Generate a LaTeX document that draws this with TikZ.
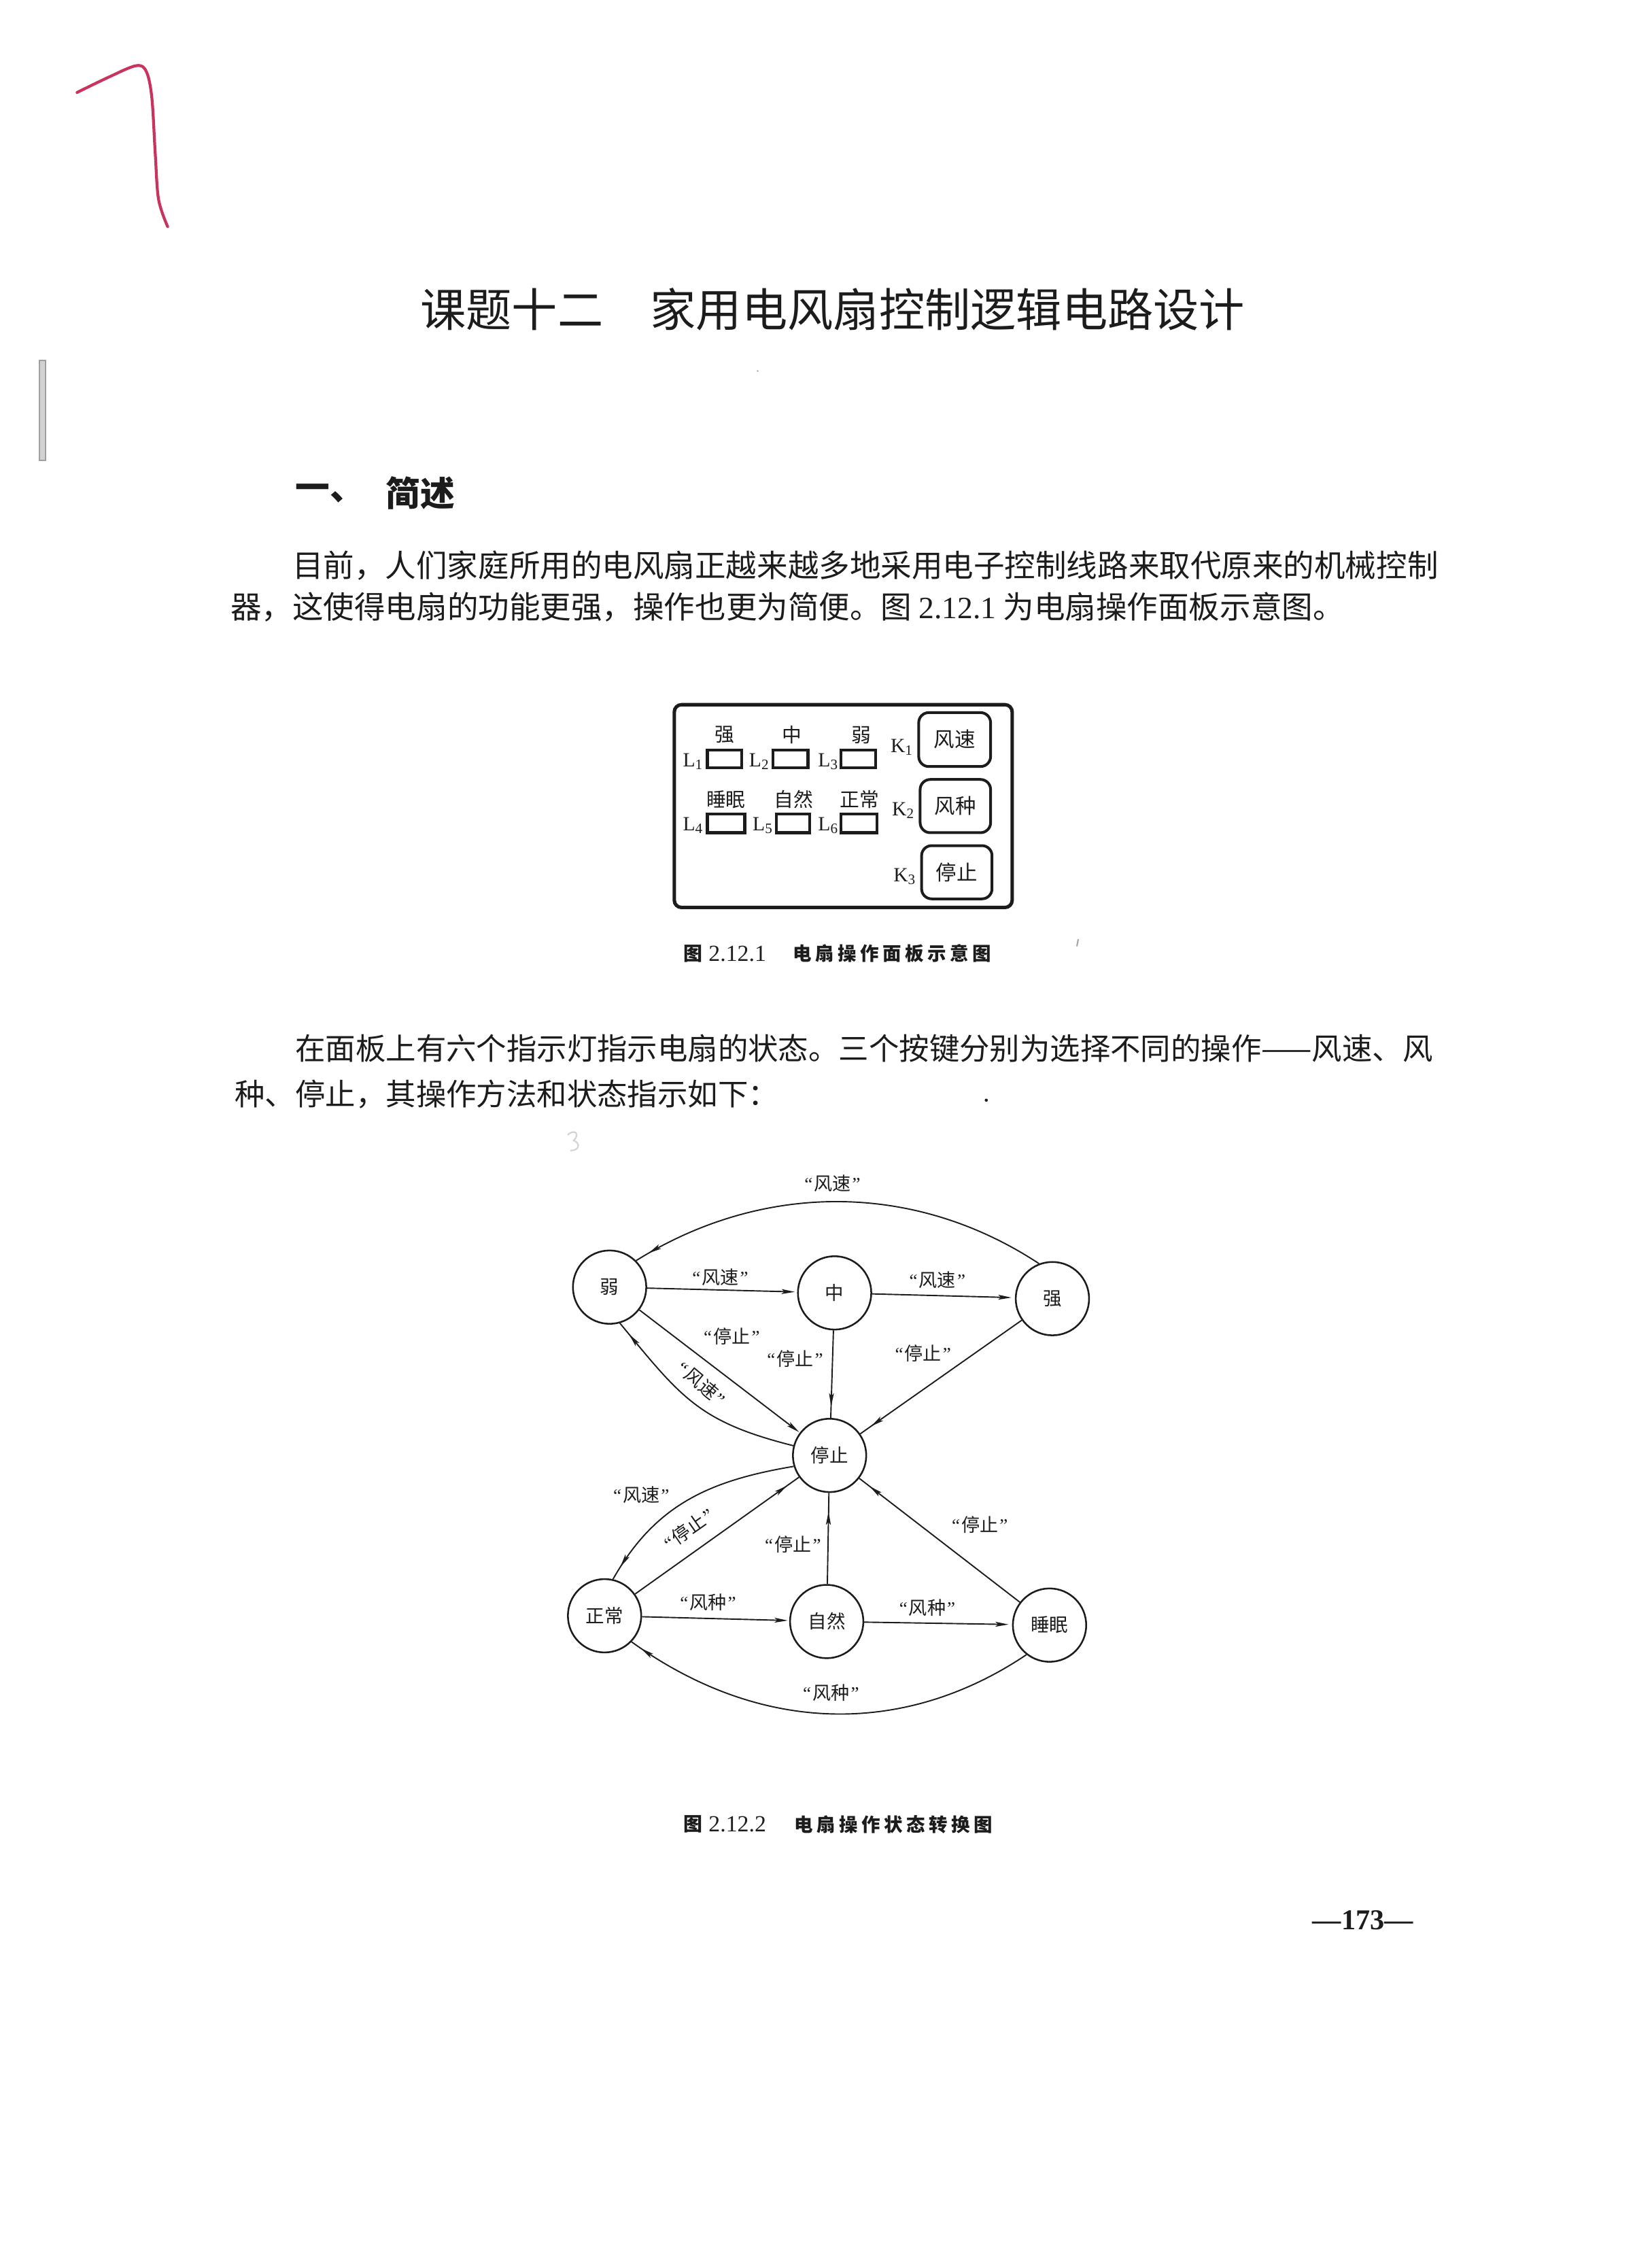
\documentclass[tikz,border=0pt]{standalone}
\usepackage{fontspec}
\setmainfont{Liberation Serif}
\newfontfamily\cjk{Noto Sans CJK SC}
\newfontfamily\lat{Liberation Serif}
\usetikzlibrary{arrows.meta,decorations.markings}

\newcommand\setfs[1]{\fontsize{#1pt}{#1pt}\selectfont}
\newcommand\qt[1]{{\lat “}\hspace{0.5pt}#1\hspace{0.5pt}{\lat ”}}

\definecolor{ink}{HTML}{1C1C1C}
\definecolor{penred}{HTML}{C8345E}

\tikzset{
  ar/.tip={Stealth[length=4.6pt,width=1.7pt,inset=1pt]},
  statenode/.style={circle, draw=ink, line width=0.6pt, minimum size=25.5pt,
    inner sep=0pt, font=\cjk\setfs{6.5}, text=ink},
  lbl/.style={inner sep=0pt, font=\cjk\setfs{6.4}, text=ink},
  conn/.style={draw=ink, line width=0.45pt},
  endtip/.style={postaction={decorate},
    decoration={markings, mark=at position #1 with {\arrow{ar}}}},
  body/.style={anchor=west, inner sep=0pt, text=ink, font=\cjk\setfs{#1}},
  panelbox/.style={draw=ink, line width=1.2pt, rounded corners=2.5pt},
  lamp/.style={draw=ink, line width=1pt},
  keybtn/.style={draw=ink, line width=0.95pt, rounded corners=3.5pt},
  plbl/.style={inner sep=0pt, text=ink, font=\cjk\setfs{6.8}},
  klbl/.style={inner sep=0pt, text=ink, anchor=base east, font=\lat\setfs{7}},
  captxt/.style={anchor=west, inner sep=0pt, text=ink},
}

\begin{document}
\begin{tikzpicture}[x=0.5pt,y=0.5pt]
\useasboundingbox (0,0) rectangle (1149,-1568);
\fill[white] (0,0) rectangle (1149,-1568);

% pen mark in the upper left corner
\draw[penred, line width=1pt, line cap=round, line join=round]
  plot[smooth, tension=0.55] coordinates {(53.6,-64.3) (75.7,-53.6) (94.6,-45.7)
  (101.7,-49.6) (105.6,-67.8) (108,-107.2) (110.3,-138.7) (116.6,-157.6)};

% binding shadow on the left margin
\draw[gray!75, fill=gray!35, line width=0.5pt] (27.5,-250.6) rectangle (31.7,-320);

% stray marks on the sheet
\fill[gray!60] (527,-258) circle (0.7);
\fill[ink] (686,-765) circle (1.1);
\draw[gray!70, line width=0.5pt] (750,-653) -- (749,-658);
\draw[gray!35, line width=0.5pt, line cap=round]
  (395,-789) .. controls (399,-785) and (404,-788) .. (399,-793)
  .. controls (404,-795) and (403,-800) .. (397,-800);

% title
\node[body=15.9] (title1) at (292,-215) {课题十二};
\node[body=15.9] (title2) at (452,-215) {家用电风扇控制逻辑电路设计};

% section heading
\node[body=12, font=\cjk\bfseries\setfs{12}] (sec1) at (205,-343) {一、};
\node[body=12, font=\cjk\bfseries\setfs{12}] (sec2) at (268,-343) {简述};

% first paragraph
\node[body=10.77] (p1a) at (203,-393) {目前，人们家庭所用的电风扇正越来越多地采用电子控制线路来取代原来的机械控制};
\node[body=10.77] (p1b) at (160,-422) {器，这使得电扇的功能更强，操作也更为简便。图 {\lat 2.12.1} 为电扇操作面板示意图。};

% operating panel
\draw[panelbox] (469,-490) rectangle (704,-631);
\draw[lamp] (492,-521.5) rectangle (516,-534);
\draw[lamp] (537.5,-521.5) rectangle (562,-534);
\draw[lamp] (585,-521.5) rectangle (609,-534);
\draw[lamp] (492,-566) rectangle (518,-579);
\draw[lamp] (540,-566) rectangle (563,-579);
\draw[lamp] (585,-566) rectangle (610,-579);
\node[klbl] (L1) at (490,-533) {L\textsubscript{1}};
\node[klbl] (L2) at (536,-533) {L\textsubscript{2}};
\node[klbl] (L3) at (584,-533) {L\textsubscript{3}};
\node[klbl] (L4) at (490,-577.5) {L\textsubscript{4}};
\node[klbl] (L5) at (538.5,-577.5) {L\textsubscript{5}};
\node[klbl] (L6) at (584,-577.5) {L\textsubscript{6}};
\node[plbl] (pq) at (504,-511) {强};
\node[plbl] (pz) at (551,-511) {中};
\node[plbl] (pr) at (599,-511) {弱};
\node[plbl] (ps) at (505,-556) {睡眠};
\node[plbl] (pn) at (552,-556) {自然};
\node[plbl] (pc) at (598,-556) {正常};
\draw[keybtn] (639,-495.5) rectangle (689,-533);
\draw[keybtn] (640,-542) rectangle (689,-579);
\draw[keybtn] (641,-588) rectangle (690,-625);
\node[plbl, font=\cjk\setfs{7.2}] (k1t) at (664,-514) {风速};
\node[plbl, font=\cjk\setfs{7.2}] (k2t) at (664.5,-560.5) {风种};
\node[plbl, font=\cjk\setfs{7.2}] (k3t) at (665.5,-606.5) {停止};
\node[klbl] (K1) at (636,-523) {K\textsubscript{1}};
\node[klbl] (K2) at (637,-567) {K\textsubscript{2}};
\node[klbl] (K3) at (638,-613) {K\textsubscript{3}};

% caption of the panel
\node[captxt, font=\cjk\bfseries\setfs{6.6}] (cap1a) at (475,-663) {图};
\node[captxt, font=\lat\setfs{8}] (cap1b) at (492.5,-663) {2.12.1};
\node[captxt, font=\cjk\bfseries\setfs{6.5}\addfontfeature{LetterSpace=20}] (cap1c) at (551,-663) {电扇操作面板示意图};

% second paragraph
\node[body=10.5] (p2a) at (205,-729) {在面板上有六个指示灯指示电扇的状态。三个按键分别为选择不同的操作——风速、风};
\node[body=10.5] (p2b) at (163,-761) {种、停止，其操作方法和状态指示如下：};

% state transition diagram
\node[statenode] (ruo)   at (424,-895)    {弱};
\node[statenode] (zhong) at (580.5,-899)  {中};
\node[statenode] (qiang) at (732,-903)    {强};
\node[statenode] (stop)  at (577,-1012)   {停止};
\node[statenode] (zc)    at (420.5,-1123.5) {正常};
\node[statenode] (zr)    at (575,-1127.5) {自然};
\node[statenode] (sm)    at (730,-1130)   {睡眠};

% speed cycle
\draw[conn, -{ar}, shorten >=0.8pt] (ruo) -- (zhong);
\draw[conn, -{ar}, shorten >=1.2pt] (zhong) -- (qiang);
\draw[conn, endtip=-5pt] (qiang.111) .. controls (636,-821.5) and (530.6,-821.5) .. (ruo.45);
% stop transitions from the speeds
\draw[conn, -{ar}, shorten >=0.3pt] (ruo) -- (stop);
\draw[conn, endtip=-4pt] (zhong) -- (stop);
\draw[conn, endtip=-4.5pt] (qiang) -- (stop);
\draw[conn, endtip=-5pt] (stop.165) .. controls (486,-988.7) and (474,-972) .. (ruo.-74);
% mode cycle
\draw[conn, -{ar}, shorten >=0.5pt] (zc) -- (zr);
\draw[conn, -{ar}, shorten >=1.2pt] (zr) -- (sm);
\draw[conn, endtip=-4pt] (sm.232) .. controls (630,-1207) and (530,-1207) .. (zc.-44);
% stop transitions from the modes
\draw[conn, endtip=-5pt] (zc) -- (stop);
\draw[conn, endtip=-6.5pt] (zr) -- (stop);
\draw[conn, endtip=-4.5pt] (sm) -- (stop);
\draw[conn, endtip=-5pt] (stop.197) .. controls (493.2,-1029.5) and (455.6,-1046.4) .. (zc.77);

% transition labels
\node[lbl] (e1)  at (501,-888)    {\qt{风速}};
\node[lbl] (e2)  at (652,-890)    {\qt{风速}};
\node[lbl] (e3)  at (579,-823)    {\qt{风速}};
\node[lbl] (e4)  at (509,-929)    {\qt{停止}};
\node[lbl, rotate=-40] (e5) at (488,-962) {\qt{风速}};
\node[lbl] (e6)  at (553,-945)    {\qt{停止}};
\node[lbl] (e7)  at (642,-941)    {\qt{停止}};
\node[lbl] (e8)  at (446,-1039.5) {\qt{风速}};
\node[lbl, rotate=35] (e9) at (479,-1063) {\qt{停止}};
\node[lbl] (e10) at (551.5,-1074) {\qt{停止}};
\node[lbl] (e11) at (681.5,-1060) {\qt{停止}};
\node[lbl] (e12) at (492.5,-1114) {\qt{风种}};
\node[lbl] (e13) at (645,-1118)   {\qt{风种}};
\node[lbl] (e14) at (578,-1177)   {\qt{风种}};

% caption of the diagram
\node[captxt, font=\cjk\bfseries\setfs{6.6}] (cap2a) at (475,-1268.5) {图};
\node[captxt, font=\lat\setfs{8}] (cap2b) at (492.5,-1268.5) {2.12.2};
\node[captxt, font=\cjk\bfseries\setfs{6.5}\addfontfeature{LetterSpace=20}] (cap2c) at (552,-1268.5) {电扇操作状态转换图};

% page number
\node[inner sep=0pt, text=ink, font=\lat\bfseries\setfs{10}] (page) at (948,-1335) {—173—};
\end{tikzpicture}
\end{document}
